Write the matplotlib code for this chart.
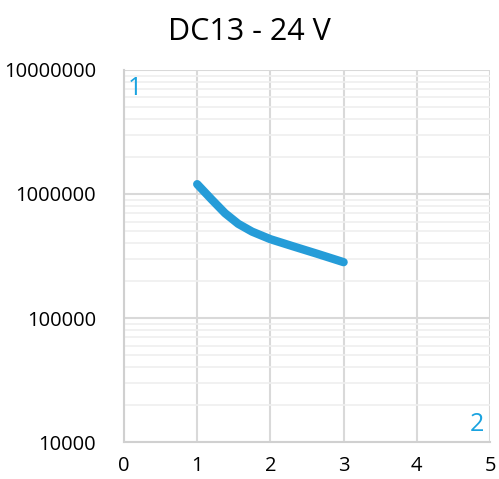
import matplotlib.pyplot as plt
from matplotlib.ticker import LogLocator
import numpy as np

# Кривая (ток, циклы)
x_vals = [1.0, 1.2, 1.38, 1.56, 1.75, 2.0, 2.3, 2.65, 3.0]
y_vals = [1.2e6, 9.0e5, 7.0e5, 5.75e5, 4.97e5, 4.32e5, 3.8e5, 3.28e5, 2.82e5]

x_ticks = [0, 1, 2, 3, 4, 5]
y_ticks = [1e4, 1e5, 1e6, 1e7]
y_labels = ["10000", "100000", "1000000", "10000000"]

plt.rcParams['font.family'] = ['Open Sans', 'DejaVu Sans']

fig = plt.figure(figsize=(4.99, 4.79), dpi=100)
ax = fig.add_axes([0.2485, 0.0772, 0.7335, 0.7767])

ax.plot(x_vals, y_vals, color='#259cd8', linewidth=6, solid_capstyle='round',
        solid_joinstyle='round')

ax.set_yscale('log')
ax.set_xlim(0, 5)
ax.set_ylim(1e4, 1e7)
ax.set_xticks(x_ticks)
ax.set_xticklabels([str(t) for t in x_ticks])
ax.set_yticks(y_ticks)
ax.set_yticklabels(y_labels)
ax.yaxis.set_minor_locator(LogLocator(base=10, subs=np.arange(2, 10)))
ax.yaxis.set_minor_formatter(plt.NullFormatter())

ax.grid(which='major', axis='both', color='#d9d9d9', linewidth=1.5)
ax.grid(which='minor', axis='y', color='#efefef', linewidth=1.2)
ax.set_axisbelow(True)
ax.tick_params(which='both', length=0, labelsize=14.5, colors='black')
ax.tick_params(axis='y', pad=20)
ax.tick_params(axis='x', pad=10)

for side in ['top', 'right']:
    ax.spines[side].set_visible(False)
for side in ['left', 'bottom']:
    ax.spines[side].set_color('#d0d0d0')
    ax.spines[side].set_linewidth(1.5)

ax.text(0.01, 0.95, "1", transform=ax.transAxes, color='#1aa3e0', fontsize=18, va='center', ha='left')
ax.text(0.985, 0.047, "2", transform=ax.transAxes, color='#1aa3e0', fontsize=18, va='center', ha='right')

fig.suptitle("DC13 - 24 V", fontsize=22, y=0.965)

fig.savefig('out.png', dpi=100)
